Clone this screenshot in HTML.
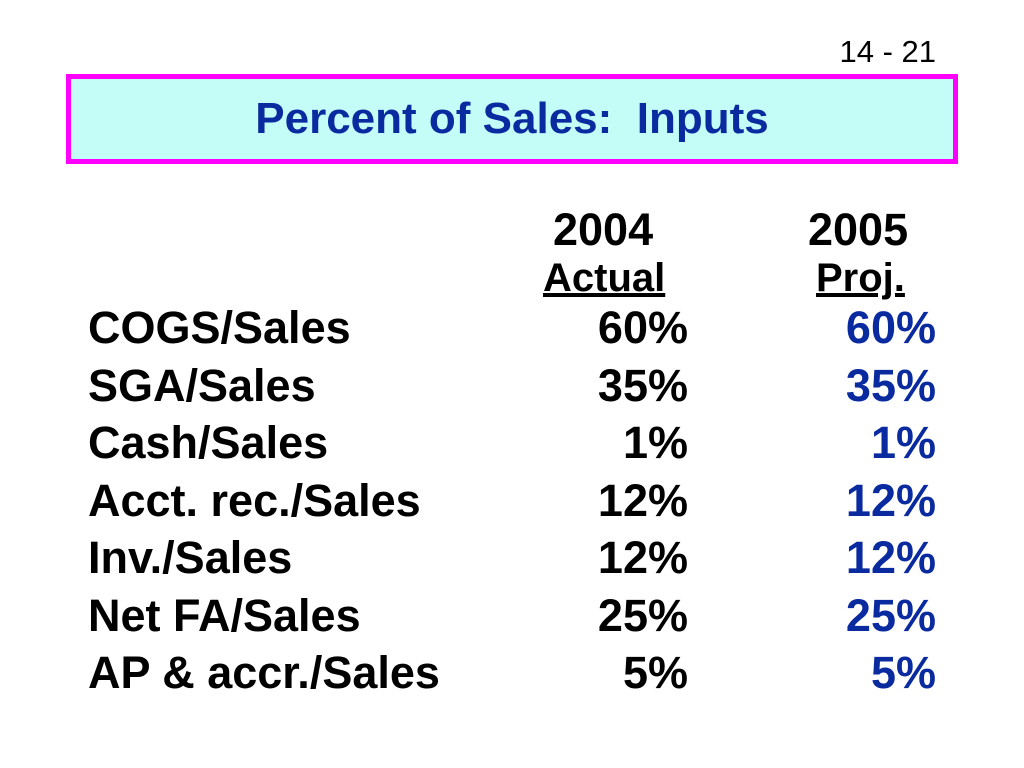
<!DOCTYPE html>
<html><head><meta charset="utf-8"><style>
body{margin:0;width:1024px;height:768px;background:#fff;position:relative;overflow:hidden;font-family:"Liberation Sans",Arial,sans-serif;font-weight:bold;color:#000}
.a{position:absolute;white-space:nowrap;line-height:1}
.lbl{left:88px;font-size:45px}
.v1{right:336px;font-size:45px;text-align:right}
.v2{right:88px;font-size:45px;text-align:right;color:#0a2aa0}
</style></head><body>
<div class="a" style="right:88px;top:36px;font-size:31px;font-weight:normal">14 - 21</div>
<div class="a" style="left:66px;top:74px;width:882px;height:80px;border:5px solid #ff00ff;background:#c4fcf8;text-align:center;line-height:80px;font-size:44px;color:#0a2aa0">Percent of Sales:&nbsp; Inputs</div>
<div class="a" style="left:553px;top:207px;font-size:45px">2004</div>
<div class="a" style="left:808px;top:207px;font-size:45px">2005</div>
<div class="a" style="left:543px;top:258px;font-size:40px;text-decoration:underline">Actual</div>
<div class="a" style="left:816px;top:258px;font-size:40px;text-decoration:underline">Proj.</div>
<div id="rows"></div>
<script>
const labels=["COGS/Sales","SGA/Sales","Cash/Sales","Acct. rec./Sales","Inv./Sales","Net FA/Sales","AP & accr./Sales"];
const actual=["60%","35%","1%","12%","12%","25%","5%"];
const proj=["60%","35%","1%","12%","12%","25%","5%"];
const rows=document.getElementById('rows');
labels.forEach((l,i)=>{
  const top=(305+i*57.5)+'px';
  const a=document.createElement('div');a.className='a lbl';a.style.top=top;a.textContent=l;
  
  
  const b=document.createElement('div');b.className='a v1';b.style.top=top;b.textContent=actual[i];
  
  
  const c=document.createElement('div');c.className='a v2';c.style.top=top;c.textContent=proj[i];
  
  
  rows.append(a,b,c);
});
</script>
</body></html>
